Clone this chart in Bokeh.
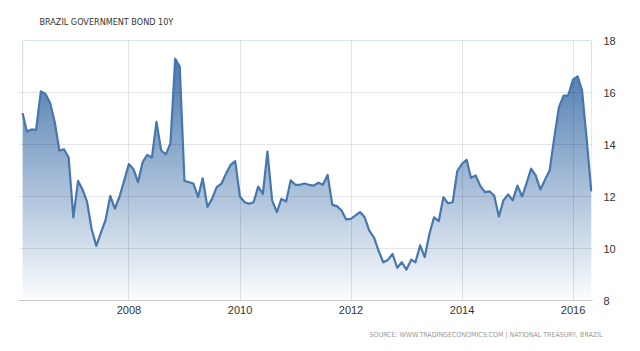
import numpy as np
import pandas as pd
from bokeh.plotting import figure
from bokeh.models import Range1d, FixedTicker, DatetimeTickFormatter, Title
from bokeh.embed import file_html
from bokeh.resources import INLINE

# ---- data (monthly yields, Jan 2006 .. Apr 2016) ----
start_month = "2006-01-01"
yields = [
    15.20, 14.50, 14.58, 14.56, 16.04, 15.95, 15.60, 14.85, 13.77, 13.81, 13.50, 11.20,
    12.60, 12.28, 11.80, 10.75, 10.10, 10.60, 11.10, 12.02, 11.53, 12.00, 12.60, 13.25,
    13.05, 12.55, 13.32, 13.60, 13.50, 14.87, 13.77, 13.62, 14.05, 17.30, 17.00, 12.60,
    12.55, 12.50, 11.98, 12.70, 11.60, 11.90, 12.36, 12.49, 12.87, 13.22, 13.36, 12.00,
    11.78, 11.72, 11.78, 12.38, 12.10, 13.73, 11.85, 11.40, 11.91, 11.81, 12.62, 12.45,
    12.45, 12.50, 12.45, 12.42, 12.53, 12.45, 12.83, 11.68, 11.63, 11.46, 11.12, 11.14,
    11.27, 11.40, 11.20, 10.69, 10.43, 9.92, 9.47, 9.56, 9.79, 9.26, 9.47, 9.19,
    9.57, 9.47, 10.12, 9.67, 10.56, 11.20, 11.05, 11.97, 11.74, 11.78, 12.97, 13.26,
    13.41, 12.72, 12.81, 12.42, 12.17, 12.20, 12.04, 11.23, 11.85, 12.08, 11.85, 12.42,
    12.00, 12.49, 13.07, 12.81, 12.27, 12.64, 13.00, 14.28, 15.44, 15.88, 15.88, 16.49,
    16.62, 16.08, 14.20, 12.20,
]
tick_years = [2008, 2010, 2012, 2014, 2016]
y_ticks = [8, 10, 12, 14, 16, 18]
title_text = "BRAZIL GOVERNMENT BOND 10Y"
source_text = "SOURCE: WWW.TRADINGECONOMICS.COM | NATIONAL TREASURY, BRAZIL"

dates = pd.date_range(start_month, periods=len(yields), freq="MS") + pd.offsets.MonthEnd(0)
y = np.array(yields)

def ms(ts):
    return pd.Timestamp(ts).value / 1e6

x0 = ms(dates[0]); x1 = ms(dates[-1])
x_start = ms("2006-01-04"); x_end = ms("2016-05-08")
y_lo, y_hi = 8, 18

p = figure(width=640, height=351, output_backend="svg", toolbar_location=None,
           x_axis_type="datetime", y_axis_location="right",
           x_range=Range1d(x_start, x_end), y_range=Range1d(y_lo, y_hi),
           min_border_left=18, min_border_right=48, min_border_top=0, min_border_bottom=0)
p.background_fill_color = "white"
p.border_fill_color = "white"
p.outline_line_color = None

# gradient fill (style): vertical ramp from steel blue at top to near-white at bottom
n = 200
t = np.linspace(0, 1, n)  # 0 bottom -> 1 top
top = np.array([62, 112, 170]); bot = np.array([252, 253, 254])
cols = (bot[None, :] + (top - bot)[None, :] * t[:, None]).astype(np.uint32)
img = np.empty((n, 2), dtype=np.uint32)
view = img.view(dtype=np.uint8).reshape((n, 2, 4))
view[:, :, 0] = cols[:, 0][:, None]
view[:, :, 1] = cols[:, 1][:, None]
view[:, :, 2] = cols[:, 2][:, None]
view[:, :, 3] = 255
r_img = p.image_rgba(image=[img], x=x0, y=y_lo, dw=x1 - x0, dh=y_hi - y_lo)
r_img.level = "image"
# mask above the series
r_mask = p.varea(x=dates, y1=y, y2=y_hi, fill_color="white")
r_mask.level = "image"

# series line
p.line(dates, y, line_color="#4677ad", line_width=2.2, line_join="round")

# grids
for g in (p.xgrid, p.ygrid):
    g.grid_line_color = "#000000"
    g.grid_line_alpha = 0.10
    g.level = "underlay"
p.xgrid.ticker = FixedTicker(ticks=[ms(f"{yr}-01-01") for yr in tick_years])
p.ygrid.ticker = FixedTicker(ticks=y_ticks)

# x axis
xa = p.xaxis[0]
xa.ticker = FixedTicker(ticks=[ms(f"{yr}-01-01") for yr in tick_years])
xa.formatter = DatetimeTickFormatter(years="%Y", months="%Y", days="%Y")
xa.axis_line_color = "#cccccc"
xa.major_tick_line_color = None
xa.minor_tick_line_color = None
xa.major_label_text_font = "Liberation Sans"
xa.major_label_text_font_size = "11px"
xa.major_label_text_color = "#333333"
xa.major_label_standoff = -1

ya = p.yaxis[0]
ya.ticker = FixedTicker(ticks=y_ticks)
ya.axis_line_color = None
ya.major_tick_line_color = None
ya.minor_tick_line_color = None
ya.major_label_text_font = "Liberation Sans"
ya.major_label_text_font_size = "11px"
ya.major_label_text_color = "#333333"
ya.major_label_standoff = 5

# title
p.title.text = title_text
p.title.align = "left"
p.title.offset = 21
p.title.standoff = 28
p.title.text_font = "DejaVu Sans Condensed"
p.title.text_font_size = "9px"
p.title.text_font_style = "normal"
p.title.text_color = "#333333"

p.add_layout(Title(text=source_text, align="right", offset=-10, standoff=25,
                   text_font="DejaVu Sans Condensed", text_font_size="7px",
                   text_font_style="normal", text_color="#999999"), "below")

open("out.html", "w").write(file_html(p, INLINE))
